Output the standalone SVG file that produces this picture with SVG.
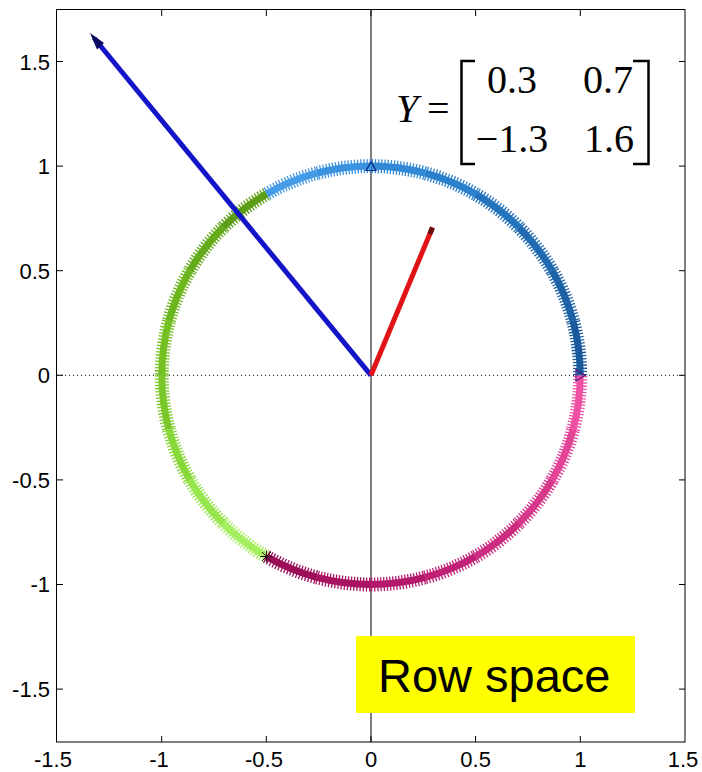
<svg xmlns="http://www.w3.org/2000/svg" width="702" height="772" viewBox="0 0 702 772">
<style>
.tick{stroke:#000;stroke-width:1;fill:none}
.lbl{font-family:"Liberation Sans",Arial,sans-serif;font-size:22px;fill:#000}
.ly{text-anchor:end}
.lx{text-anchor:middle}
.core{fill:none;stroke-width:7}
.teeth{fill:none;stroke-width:14;stroke-dasharray:1.3 1.8}
.mat{font-family:"Liberation Serif","Times New Roman",serif;font-size:40px;fill:#000}
</style>
<rect width="702" height="772" fill="#fff"/>
<g id="axes">
<rect x="56.5" y="9.5" width="628.5" height="732.5" fill="none" stroke="#000" stroke-width="1"/>
<line x1="371" y1="10" x2="371" y2="742" stroke="#000" stroke-width="1"/>
<line x1="57" y1="375.3" x2="685" y2="375.3" stroke="#000" stroke-width="1" stroke-dasharray="1 3"/>
<g class="tick">
<path d="M161.7 742v-6M266.3 742v-6M371 742v-6M475.6 742v-6M580.3 742v-6"/>
<path d="M161.7 10v6M266.3 10v6M371 10v6M475.6 10v6M580.3 10v6"/>
<path d="M57 61.5h6M57 166.1h6M57 270.7h6M57 375.3h6M57 479.9h6M57 584.5h6M57 689.1h6"/>
<path d="M685 61.5h-6M685 166.1h-6M685 270.7h-6M685 375.3h-6M685 479.9h-6M685 584.5h-6M685 689.1h-6"/>
</g>
<g class="lbl ly">
<text x="50" y="69.5">1.5</text>
<text x="50" y="174">1</text>
<text x="50" y="278.6">0.5</text>
<text x="50" y="383.2">0</text>
<text x="50" y="487.8">-0.5</text>
<text x="50" y="592.4">-1</text>
<text x="50" y="697">-1.5</text>
</g>
<g class="lbl lx">
<text x="53" y="767">-1.5</text>
<text x="159" y="767">-1</text>
<text x="264" y="767">-0.5</text>
<text x="371" y="767">0</text>
<text x="475.6" y="767">0.5</text>
<text x="580.3" y="767">1</text>
<text x="683" y="767">1.5</text>
</g>
</g>
<g id="circle">
<path class="core" stroke="#1a5a9c" d="M580.2 375.3A209.2 209.2 0 0 0 573.1 321.2"/>
<path class="core" stroke="#1d62a6" d="M573.1 321.2A209.2 209.2 0 0 0 552.2 270.7"/>
<path class="core" stroke="#216bb2" d="M552.2 270.7A209.2 209.2 0 0 0 518.9 227.4"/>
<path class="core" stroke="#2574be" d="M518.9 227.4A209.2 209.2 0 0 0 475.6 194.1"/>
<path class="core" stroke="#2b80cb" d="M475.6 194.1A209.2 209.2 0 0 0 425.1 173.2"/>
<path class="core" stroke="#3289d6" d="M425.1 173.2A209.2 209.2 0 0 0 371 166.1"/>
<path class="core" stroke="#3b93e0" d="M371 166.1A209.2 209.2 0 0 0 316.9 173.2"/>
<path class="core" stroke="#449ce6" d="M316.9 173.2A209.2 209.2 0 0 0 266.4 194.1"/>
<path class="core" stroke="#5c9e16" d="M266.4 194.1A209.2 209.2 0 0 0 223.1 227.4"/>
<path class="core" stroke="#64ab1a" d="M223.1 227.4A209.2 209.2 0 0 0 189.8 270.7"/>
<path class="core" stroke="#6cb61e" d="M189.8 270.7A209.2 209.2 0 0 0 168.9 321.2"/>
<path class="core" stroke="#74c022" d="M168.9 321.2A209.2 209.2 0 0 0 161.8 375.3"/>
<path class="core" stroke="#7cc82c" d="M161.8 375.3A209.2 209.2 0 0 0 168.9 429.4"/>
<path class="core" stroke="#88d83a" d="M168.9 429.4A209.2 209.2 0 0 0 189.8 479.9"/>
<path class="core" stroke="#96e64c" d="M189.8 479.9A209.2 209.2 0 0 0 223.1 523.2"/>
<path class="core" stroke="#a4ef5e" d="M223.1 523.2A209.2 209.2 0 0 0 266.4 556.5"/>
<path class="core" stroke="#9c0e58" d="M266.4 556.5A209.2 209.2 0 0 0 316.9 577.4"/>
<path class="core" stroke="#a81462" d="M316.9 577.4A209.2 209.2 0 0 0 371 584.5"/>
<path class="core" stroke="#b41a6c" d="M371 584.5A209.2 209.2 0 0 0 425.1 577.4"/>
<path class="core" stroke="#c02276" d="M425.1 577.4A209.2 209.2 0 0 0 475.6 556.5"/>
<path class="core" stroke="#cc2c80" d="M475.6 556.5A209.2 209.2 0 0 0 518.9 523.2"/>
<path class="core" stroke="#d8388c" d="M518.9 523.2A209.2 209.2 0 0 0 552.2 479.9"/>
<path class="core" stroke="#e44498" d="M552.2 479.9A209.2 209.2 0 0 0 573.1 429.4"/>
<path class="core" stroke="#ee50a4" d="M573.1 429.4A209.2 209.2 0 0 0 580.2 375.3"/>
<path class="teeth" stroke="#1a5a9c" d="M580.2 375.3A209.2 209.2 0 0 0 573.1 321.2"/>
<path class="teeth" stroke="#1d62a6" d="M573.1 321.2A209.2 209.2 0 0 0 552.2 270.7"/>
<path class="teeth" stroke="#216bb2" d="M552.2 270.7A209.2 209.2 0 0 0 518.9 227.4"/>
<path class="teeth" stroke="#2574be" d="M518.9 227.4A209.2 209.2 0 0 0 475.6 194.1"/>
<path class="teeth" stroke="#2b80cb" d="M475.6 194.1A209.2 209.2 0 0 0 425.1 173.2"/>
<path class="teeth" stroke="#3289d6" d="M425.1 173.2A209.2 209.2 0 0 0 371 166.1"/>
<path class="teeth" stroke="#3b93e0" d="M371 166.1A209.2 209.2 0 0 0 316.9 173.2"/>
<path class="teeth" stroke="#449ce6" d="M316.9 173.2A209.2 209.2 0 0 0 266.4 194.1"/>
<path class="teeth" stroke="#5c9e16" d="M266.4 194.1A209.2 209.2 0 0 0 223.1 227.4"/>
<path class="teeth" stroke="#64ab1a" d="M223.1 227.4A209.2 209.2 0 0 0 189.8 270.7"/>
<path class="teeth" stroke="#6cb61e" d="M189.8 270.7A209.2 209.2 0 0 0 168.9 321.2"/>
<path class="teeth" stroke="#74c022" d="M168.9 321.2A209.2 209.2 0 0 0 161.8 375.3"/>
<path class="teeth" stroke="#7cc82c" d="M161.8 375.3A209.2 209.2 0 0 0 168.9 429.4"/>
<path class="teeth" stroke="#88d83a" d="M168.9 429.4A209.2 209.2 0 0 0 189.8 479.9"/>
<path class="teeth" stroke="#96e64c" d="M189.8 479.9A209.2 209.2 0 0 0 223.1 523.2"/>
<path class="teeth" stroke="#a4ef5e" d="M223.1 523.2A209.2 209.2 0 0 0 266.4 556.5"/>
<path class="teeth" stroke="#9c0e58" d="M266.4 556.5A209.2 209.2 0 0 0 316.9 577.4"/>
<path class="teeth" stroke="#a81462" d="M316.9 577.4A209.2 209.2 0 0 0 371 584.5"/>
<path class="teeth" stroke="#b41a6c" d="M371 584.5A209.2 209.2 0 0 0 425.1 577.4"/>
<path class="teeth" stroke="#c02276" d="M425.1 577.4A209.2 209.2 0 0 0 475.6 556.5"/>
<path class="teeth" stroke="#cc2c80" d="M475.6 556.5A209.2 209.2 0 0 0 518.9 523.2"/>
<path class="teeth" stroke="#d8388c" d="M518.9 523.2A209.2 209.2 0 0 0 552.2 479.9"/>
<path class="teeth" stroke="#e44498" d="M552.2 479.9A209.2 209.2 0 0 0 573.1 429.4"/>
<path class="teeth" stroke="#ee50a4" d="M573.1 429.4A209.2 209.2 0 0 0 580.2 375.3"/>
<path d="M366 170.5L371 162L376 170.5Z" fill="none" stroke="#0a2a80" stroke-width="1.2"/>
<path d="M576 369.5L585 375.3L576 381Z" fill="none" stroke="#5a1a8a" stroke-width="1.2"/>
<path d="M260.5 556.5h12M266.4 550.5v12M262 552l9 9M271 552l-9 9" stroke="#2a0a1a" stroke-width="1"/>
</g>
<g id="vectors">
<line x1="371" y1="375.3" x2="94" y2="38" stroke="#1414c8" stroke-width="5"/>
<polygon points="90,33 97,49.5 104,43" fill="#0a0a60"/>
<line x1="371" y1="375.3" x2="432.5" y2="227.5" stroke="#e01414" stroke-width="5"/>
<line x1="429.8" y1="234" x2="432.5" y2="227.5" stroke="#6a1010" stroke-width="5"/>
</g>
<g id="matrix">
<text class="mat" x="396" y="122" font-style="italic">Y</text>
<text class="mat" x="427" y="122">=</text>
<path d="M475 61H461.5V164H475M633 61H648.5V164H633" fill="none" stroke="#000" stroke-width="2.5"/>
<g class="mat" text-anchor="middle">
<text x="512" y="93">0.3</text>
<text x="608" y="93">0.7</text>
<text x="512" y="152">−1.3</text>
<text x="609" y="152">1.6</text>
</g>
</g>
<g id="label">
<rect x="356" y="636" width="279" height="77" fill="#ffff00"/>
<text x="378" y="692" font-family="'Liberation Sans',Arial,sans-serif" font-size="47" fill="#000">Row space</text>
</g>
</svg>
